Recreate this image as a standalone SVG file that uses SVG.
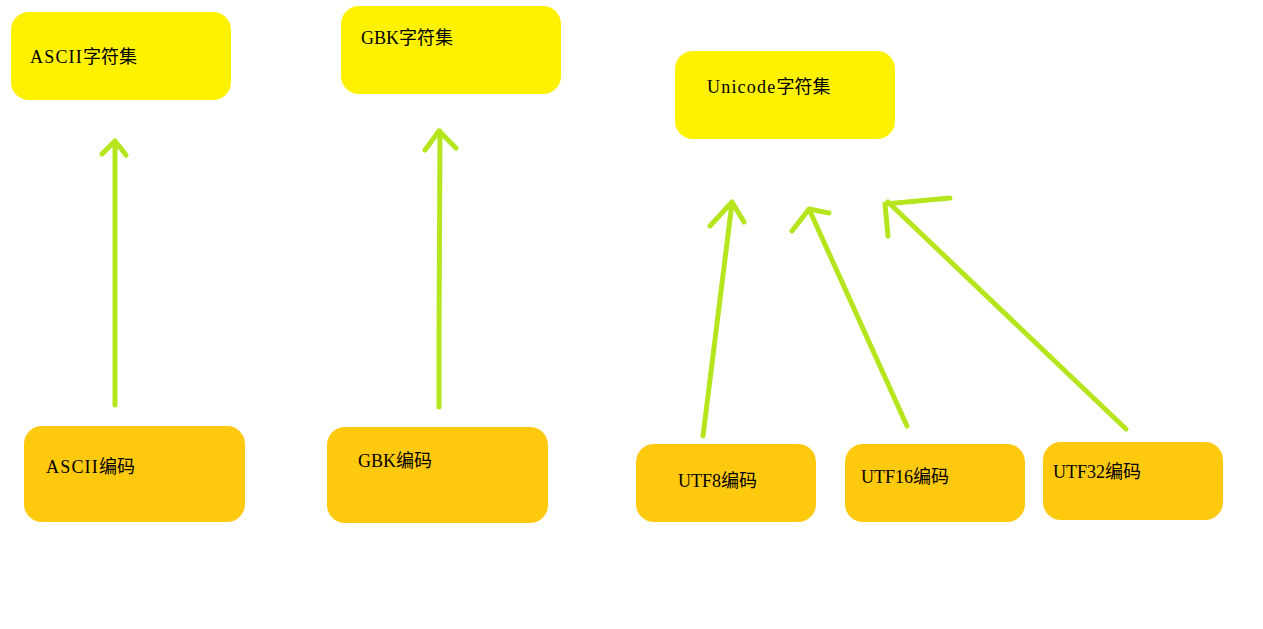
<svg xmlns="http://www.w3.org/2000/svg" width="1263" height="629" viewBox="0 0 1263 629">
<style>
.set{fill:#FFF200;}
.enc{fill:#FFC90E;}
.t{font-family:"Liberation Serif","Noto Sans CJK SC",serif;font-size:18px;fill:#000;}
.w{letter-spacing:1.2px;}
.a{fill:none;stroke:#B5E61D;stroke-width:5;stroke-linecap:round;stroke-linejoin:round;}
</style>
<rect width="1263" height="629" fill="#fff"/>
<g id="ascii-set"><rect class="set" x="11" y="12" width="220" height="88" rx="18"/><text class="t" x="30" y="63"><tspan class="w">ASCII</tspan>字符集</text></g>
<g id="gbk-set"><rect class="set" x="341" y="6" width="220" height="88" rx="18"/><text class="t" x="361" y="44">GBK字符集</text></g>
<g id="unicode-set"><rect class="set" x="675" y="51" width="220" height="88" rx="18"/><text class="t" x="707" y="93"><tspan class="w">Unicode</tspan>字符集</text></g>
<g id="ascii-enc"><rect class="enc" x="24" y="426" width="221" height="96" rx="18"/><text class="t" x="46" y="473"><tspan class="w">ASCII</tspan>编码</text></g>
<g id="gbk-enc"><rect class="enc" x="327" y="427" width="221" height="96" rx="18"/><text class="t" x="358" y="467">GBK编码</text></g>
<g id="utf8-enc"><rect class="enc" x="636" y="444" width="180" height="78" rx="18"/><text class="t" x="678" y="487">UTF8编码</text></g>
<g id="utf16-enc"><rect class="enc" x="845" y="444" width="180" height="78" rx="18"/><text class="t" x="861" y="483">UTF16编码</text></g>
<g id="utf32-enc"><rect class="enc" x="1043" y="442" width="180" height="78" rx="18"/><text class="t" x="1053" y="478">UTF32编码</text></g>
<g id="connectors">
<path class="a" d="M115 405 L115 141 M102 154 L115 141 L126 155"/>
<path class="a" d="M439 407 L439 340 L440 131 M425 150 L439 131 L456 148"/>
<path class="a" d="M703 436 L732 203 M710 226 L732 202 L744 222"/>
<path class="a" d="M907 426 L809 209 M792 231 L809 209 L829 213"/>
<path class="a" d="M1126 429 L888 202 M888 236 L885 204 L950 198"/>
</g>
</svg>
